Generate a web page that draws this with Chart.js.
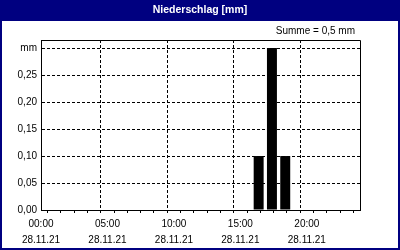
<!DOCTYPE html>
<html>
<head>
<meta charset="utf-8">
<script src="https://cdn.jsdelivr.net/npm/chart.js@4/dist/chart.umd.min.js"></script>
<style>
  html, body { margin: 0; padding: 0; background: #fff; }
  #wrap { width: 400px; height: 250px; }
</style>
</head>
<body>
<div id="wrap"><canvas id="chart" width="400" height="250"></canvas></div>
<script>
var titleText = "Niederschlag [mm]";
var sumText = "Summe = 0,5 mm";

// precipitation per hour (mm), hour 0..23
var hours = [0, 1, 2, 3, 4, 5, 6, 7, 8, 9, 10, 11, 12, 13, 14, 15, 16, 17, 18, 19, 20, 21, 22, 23];
var rain = [0, 0, 0, 0, 0, 0, 0, 0, 0, 0, 0, 0, 0, 0, 0, 0, 0.10, 0.30, 0.10, 0, 0, 0, 0, 0];

var xTickHours = [0, 5, 10, 15, 20];
var xTickLabels = ["00:00", "05:00", "10:00", "15:00", "20:00"];
var dateLabel = "28.11.21";

var yTicks = [0, 0.05, 0.10, 0.15, 0.20, 0.25, 0.30];
var yTickLabels = ["0,00", "0,05", "0,10", "0,15", "0,20", "0,25", "mm"];

const navy = "#000080";
const fontFamily = "'Liberation Sans', Arial, sans-serif";

// bars cover the first three quarters of each hour
var barData = hours.map((h, i) => ({x: h + 0.375, y: rain[i]}));

const framePlugin = {
    id: "frame",
    beforeDraw(chart) {
        const ctx = chart.ctx;
        ctx.save();
        ctx.fillStyle = navy;
        ctx.fillRect(0, 0, chart.width, chart.height);
        ctx.fillStyle = "#ffffff";
        ctx.fillRect(2, 21, chart.width - 4, chart.height - 23);
        ctx.fillStyle = "#ffffff";
        ctx.font = "bold 10.5px " + fontFamily;
        ctx.textAlign = "center";
        ctx.textBaseline = "middle";
        ctx.fillText(titleText, chart.width / 2, 10);
        ctx.fillStyle = "#000000";
        ctx.font = "10px " + fontFamily;
        ctx.textAlign = "right";
        ctx.fillText(sumText, 355, 31);
        ctx.restore();
    },
    afterDraw(chart) {
        const a = chart.chartArea;
        const ctx = chart.ctx;
        ctx.save();
        ctx.strokeStyle = "#000000";
        ctx.lineWidth = 1;
        ctx.beginPath();
        ctx.moveTo(Math.round(a.left) + 0.5, Math.round(a.top) + 0.5);
        ctx.lineTo(Math.round(a.right) + 0.5, Math.round(a.top) + 0.5);
        ctx.lineTo(Math.round(a.right) + 0.5, Math.round(a.bottom) + 0.5);
        ctx.stroke();
        ctx.restore();
    }
};

new Chart(document.getElementById("chart"), {
    type: "bar",
    data: {
        datasets: [{
            data: barData,
            backgroundColor: "#000000",
            borderWidth: 0,
            barPercentage: 0.75,
            categoryPercentage: 1.0
        }]
    },
    options: {
        responsive: false,
        animation: false,
        layout: { padding: { left: 0, right: 40, top: 40, bottom: 0 } },
        plugins: { legend: { display: false }, tooltip: { enabled: false } },
        scales: {
            x: {
                type: "linear",
                min: 0,
                max: 24,
                offset: false,
                afterFit: (scale) => { scale.height = 40; },
                border: { display: true, color: "#000000", width: 1, dash: [3, 2] },
                grid: {
                    color: (c) => (c.tick && c.tick.value % 5 === 0 && c.tick.value > 0 && c.tick.value < 24) ? "#000000" : "rgba(0,0,0,0)",
                    tickColor: "#000000",
                    tickLength: 3,
                    lineWidth: 1
                },
                ticks: {
                    stepSize: 1,
                    autoSkip: false,
                    maxRotation: 0,
                    padding: 3,
                    color: "#000000",
                    font: { family: fontFamily, size: 10, lineHeight: "16px" },
                    callback: (value) => {
                        var i = xTickHours.indexOf(value);
                        return i >= 0 ? [xTickLabels[i], dateLabel] : "";
                    }
                }
            },
            y: {
                min: 0,
                max: 0.315,
                afterFit: (scale) => { scale.width = 41; },
                afterBuildTicks: (scale) => { scale.ticks = yTicks.map((v) => ({value: v})); },
                border: { display: true, color: "#000000", width: 1, dash: [3, 2] },
                grid: {
                    color: (c) => (c.tick && c.tick.value > 0) ? "#000000" : "rgba(0,0,0,0)",
                    drawTicks: false,
                    lineWidth: 1
                },
                ticks: {
                    padding: 4,
                    color: "#000000",
                    font: { family: fontFamily, size: 10 },
                    callback: (value, index) => yTickLabels[index]
                }
            }
        }
    },
    plugins: [framePlugin]
});
</script>
</body>
</html>
